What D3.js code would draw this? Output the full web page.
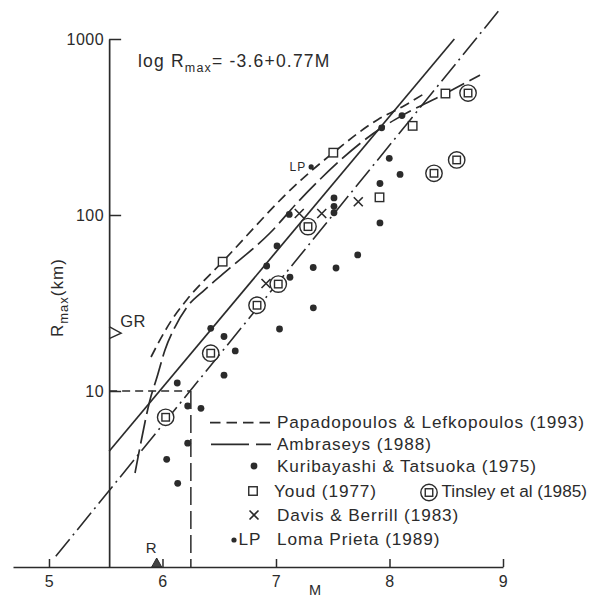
<!DOCTYPE html>
<html>
<head>
<meta charset="utf-8">
<script src="https://cdn.jsdelivr.net/npm/d3@7"></script>
<style>
  body { margin: 0; background: #fff; }
  svg { display: block; }
  text { font-family: "Liberation Sans", Arial, Helvetica, sans-serif; fill: #2b2b2b; }
</style>
</head>
<body>
<svg id="chart" width="603" height="607"></svg>
<script>
// Magnitude M against the farthest liquefaction site R_max (km).

// Observations: [M, R_max in km]
const kuribayashiTatsuoka = [
  [6.134, 2.99], [6.037, 4.09], [6.222, 5.05], [6.222, 8.22], [6.339, 7.97],
  [6.130, 11.1], [6.542, 12.3], [6.641, 16.9], [6.542, 20.4], [6.425, 22.7],
  [7.031, 22.5], [7.329, 29.7], [7.123, 44.3], [6.918, 51.3], [7.328, 50.3],
  [7.529, 50.0], [7.720, 59.3], [7.009, 66.7], [7.117, 100.7], [7.511, 125],
  [7.511, 112], [7.511, 103], [7.916, 90.1], [7.916, 151], [7.998, 210],
  [8.093, 170], [7.931, 313], [8.110, 367]
];
const youd = [[6.530, 54.3], [7.505, 226], [7.912, 126], [8.204, 321], [8.493, 490]];
const tinsley = [
  [6.028, 7.09], [6.425, 16.4], [6.833, 30.7], [7.020, 40.5], [7.282, 85.9],
  [8.392, 172.6], [8.592, 205.5], [8.692, 493]
];
const davisBerrill = [[6.912, 40.8], [7.205, 102], [7.403, 102], [7.725, 119]];
const lomaPrieta = [[7.310, 187.5]];

// Bounding curves: [M, R_max]
const papadopoulosCurve = [
  [5.899, 15.6], [5.978, 19.5], [6.081, 25.3], [6.213, 32.9], [6.530, 54.3],
  [7.220, 158], [7.505, 226], [7.899, 349], [8.110, 411], [8.330, 500]
];
const ambraseysCurve = [
  [5.758, 3.42], [5.802, 4.81], [5.890, 8.89], [5.952, 12.0], [6.022, 17.1],
  [6.110, 23.1], [6.216, 30.0], [6.374, 37.7], [6.595, 50.0], [6.947, 79.0],
  [7.211, 122], [7.931, 313], [8.110, 367], [8.493, 490], [8.797, 624]
];
const dashDotLine = [[5.06, 1.15], [8.975, 1480]];

// log R_max = a + b M
const eqIntercept = -3.6;
const eqSlope = 0.77;

// Reference marks
const refPoint = [6.25, 10];     // dashed corner
const grMarkR = 21.3;            // "GR" marker on the R axis
const rMarkM = 5.949;            // "R" marker on the M axis

// Axes
const xDomain = [4.683, 9];
const xTicks = [5, 6, 7, 8, 9];
const yTicks = [10, 100, 1000];
const yAxisM = 5.53;

const legendItems = [
  "Papadopoulos & Lefkopoulos (1993)",
  "Ambraseys (1988)",
  "Kuribayashi & Tatsuoka (1975)",
  "Youd (1977)",
  "Davis & Berrill (1983)",
  "Loma Prieta (1989)"
];
const tinsleyLabel = "Tinsley et al (1985)";

const ink = "#2b2b2b";
const svg = d3.select("#chart");

const x = d3.scaleLinear().domain(xDomain).range([13, 503]);
const y = d3.scaleLog().domain([1, 1000]).range([567, 39]);

// ---- axes ----
const gx = svg.append("g")
  .attr("transform", `translate(0,${y(1)})`)
  .call(d3.axisBottom(x).tickValues(xTicks).tickSize(-8).tickSizeOuter(0)
        .tickPadding(9).tickFormat(d3.format("d")))
  .attr("font-family", null).attr("font-size", 16);
gx.select(".domain").attr("stroke", ink).attr("stroke-width", 1.7);
gx.selectAll(".tick line").attr("stroke", ink).attr("stroke-width", 1.5);
gx.selectAll(".tick text").attr("fill", ink).attr("letter-spacing", 0.5);

const gy = svg.append("g")
  .attr("transform", `translate(${x(yAxisM)},0)`)
  .call(d3.axisLeft(y).tickValues(yTicks).tickSize(-12).tickSizeOuter(0)
        .tickPadding(5).tickFormat(d3.format("d")))
  .attr("font-family", null).attr("font-size", 16);
gy.select(".domain").attr("stroke", ink).attr("stroke-width", 1.7);
gy.selectAll(".tick line").attr("stroke", ink).attr("stroke-width", 1.5);
gy.selectAll(".tick text").attr("fill", ink).attr("letter-spacing", 0.5);

// axis titles
svg.append("text").attr("x", 315).attr("y", 595).attr("text-anchor", "middle")
  .attr("font-size", 14.5).text("M");

const yl = svg.append("text").attr("transform", "translate(63,337) rotate(-90)")
  .attr("font-size", 17).attr("letter-spacing", 1);
yl.append("tspan").text("R");
yl.append("tspan").attr("dy", 5).attr("font-size", 13).text("max");
yl.append("tspan").attr("dy", -5).text("(km)");

// equation
const eq = svg.append("text").attr("x", 138).attr("y", 67)
  .attr("font-size", 17.5).attr("letter-spacing", 1.2);
eq.append("tspan").text("log R");
eq.append("tspan").attr("dy", 5).attr("font-size", 12.5).text("max");
eq.append("tspan").attr("dy", -5).text(`= ${eqIntercept}+${eqSlope}M`);

// ---- lines ----
const line = d3.line().x(d => x(d[0])).y(d => y(d[1]));
const curve = d3.line().x(d => x(d[0])).y(d => y(d[1])).curve(d3.curveMonotoneX);

// dashed reference corner
svg.append("path")
  .attr("d", line([[yAxisM, refPoint[1]], refPoint]))
  .attr("fill", "none").attr("stroke", ink).attr("stroke-width", 1.5)
  .attr("stroke-dasharray", "8,5");
svg.append("path")
  .attr("d", line([refPoint, [refPoint[0], 1]]))
  .attr("fill", "none").attr("stroke", ink).attr("stroke-width", 1.5)
  .attr("stroke-dasharray", "18,6");

// regression line
const mEnd = (3 - eqIntercept) / eqSlope;
const eqPts = [yAxisM, mEnd].map(m => [m, Math.pow(10, eqIntercept + eqSlope * m)]);
svg.append("path").attr("d", line(eqPts))
  .attr("fill", "none").attr("stroke", ink).attr("stroke-width", 1.7);

// dash-dot bound
svg.append("path").attr("d", line(dashDotLine))
  .attr("fill", "none").attr("stroke", ink).attr("stroke-width", 1.6)
  .attr("stroke-dasharray", "22,5,2,5");

svg.append("path").attr("d", curve(papadopoulosCurve))
  .attr("fill", "none").attr("stroke", ink).attr("stroke-width", 1.7)
  .attr("stroke-dasharray", "10,5.5");

svg.append("path").attr("d", curve(ambraseysCurve))
  .attr("fill", "none").attr("stroke", ink).attr("stroke-width", 1.7)
  .attr("stroke-dasharray", "24,6");

// ---- marker helpers ----
function dot(g, cx, cy, r) {
  g.append("circle").attr("cx", cx).attr("cy", cy).attr("r", r).attr("fill", ink);
}
function square(g, cx, cy, s) {
  g.append("rect").attr("x", cx - s / 2).attr("y", cy - s / 2)
    .attr("width", s).attr("height", s)
    .attr("fill", "#fff").attr("stroke", ink).attr("stroke-width", 1.4);
}
function ringSquare(g, cx, cy) {
  g.append("circle").attr("cx", cx).attr("cy", cy).attr("r", 8.2)
    .attr("fill", "#fff").attr("stroke", ink).attr("stroke-width", 1.4);
  square(g, cx, cy, 7.5);
}
function cross(g, cx, cy, h) {
  g.append("path")
    .attr("d", `M${cx - h},${cy - h}L${cx + h},${cy + h}M${cx - h},${cy + h}L${cx + h},${cy - h}`)
    .attr("stroke", ink).attr("stroke-width", 1.6).attr("fill", "none");
}

// ---- data points ----
const pts = svg.append("g");
tinsley.forEach(d => ringSquare(pts, x(d[0]), y(d[1])));
youd.forEach(d => square(pts, x(d[0]), y(d[1]), 8.5));
davisBerrill.forEach(d => cross(pts, x(d[0]), y(d[1]), 4.5));
kuribayashiTatsuoka.forEach(d => dot(pts, x(d[0]), y(d[1]), 3.4));
lomaPrieta.forEach(d => {
  dot(pts, x(d[0]), y(d[1]), 2.6);
  pts.append("text").attr("x", x(d[0]) - 5).attr("y", y(d[1]) + 4.5)
    .attr("text-anchor", "end").attr("font-size", 12).attr("letter-spacing", 1)
    .text("LP");
});

// GR marker on the R axis
const gxPos = x(yAxisM), gyPos = y(grMarkR);
svg.append("path")
  .attr("d", `M${gxPos},${gyPos - 6.5}L${gxPos + 12},${gyPos}L${gxPos},${gyPos + 5.5}`)
  .attr("fill", "none").attr("stroke", ink).attr("stroke-width", 1.4);
svg.append("text").attr("x", gxPos + 11).attr("y", gyPos - 6)
  .attr("font-size", 16.5).attr("letter-spacing", 0.5).text("GR");

// R marker on the M axis
const rx = x(rMarkM), ry = y(1);
svg.append("path")
  .attr("d", `M${rx - 5},${ry}L${rx},${ry - 9}L${rx + 5},${ry}Z`)
  .attr("fill", "#444").attr("stroke", ink).attr("stroke-width", 1);
svg.append("text").attr("x", rx - 5.5).attr("y", ry - 14).attr("text-anchor", "middle")
  .attr("font-size", 15).text("R");

// ---- legend ----
const lg = svg.append("g").attr("font-size", 17.2).attr("letter-spacing", 0.9);
const rowBase = [428.3, 450, 471.7, 496.7, 520.7, 545];
const textX = 277;
legendItems.forEach((t, i) => {
  lg.append("text").attr("x", i === 3 ? textX - 3 : textX).attr("y", rowBase[i]).text(t);
});
const cy = rowBase.map(b => b - 5.7);
lg.append("path").attr("d", `M210,${cy[0]}H272`).attr("stroke", ink)
  .attr("stroke-width", 1.7).attr("stroke-dasharray", "10.5,6");
lg.append("path").attr("d", `M211,${cy[1]}H271`).attr("stroke", ink)
  .attr("stroke-width", 1.7).attr("stroke-dasharray", "38,7");
dot(lg, 254, cy[2], 3.4);
square(lg, 253, cy[3], 8.5);
ringSquare(lg, 429, cy[3] + 1.5);
lg.append("text").attr("x", 441.5).attr("y", rowBase[3])
  .attr("font-size", 17.2).attr("letter-spacing", 0).text(tinsleyLabel);
cross(lg, 254, cy[4], 4.5);
dot(lg, 234, cy[5] + 0.7, 2.6);
lg.append("text").attr("x", 238.5).attr("y", rowBase[5]).text("LP");
</script>
</body>
</html>
